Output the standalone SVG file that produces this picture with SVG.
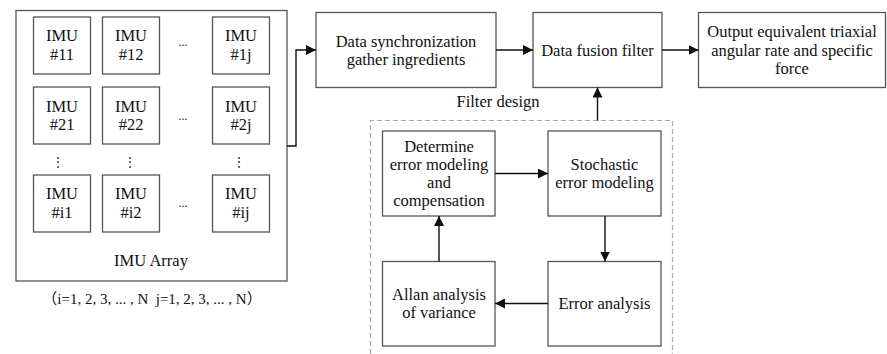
<svg xmlns="http://www.w3.org/2000/svg" width="887" height="354" viewBox="0 0 887 354">
<defs>
<marker id="ah" markerUnits="userSpaceOnUse" markerWidth="10" markerHeight="10" refX="10" refY="5" orient="auto">
<path d="M0,0 L10,5 L0,10 z" fill="#111"/>
</marker>
</defs>
<style>
.box{fill:#fff;stroke:#555;stroke-width:1.3}
.t{font-family:"Liberation Serif","Noto Sans CJK SC",serif;font-size:16.5px;fill:#111;text-anchor:middle}
.n{font-family:"Liberation Serif","Noto Sans CJK SC",serif;font-size:15px;fill:#111;text-anchor:middle}
.s{font-family:"Liberation Serif",serif;font-size:12px;fill:#111;text-anchor:middle}
.c{fill:none;stroke:#111;stroke-width:1.4}
.dash{fill:none;stroke:#aaa;stroke-width:1.2;stroke-dasharray:5,3}
</style>
<rect width="887" height="354" fill="#fff"/>

<g id="imu-array">
<rect class="box" x="16" y="10.5" width="271" height="270.5"/>
<text class="t" x="151" y="266">IMU Array</text>
</g>
<g id="imu11"><rect class="box" x="33.5" y="17" width="57" height="57"/><text class="t" x="62" y="40.5">IMU</text><text class="t" x="62" y="59.5">#11</text></g>
<g id="imu12"><rect class="box" x="102.5" y="17" width="57" height="57"/><text class="t" x="131" y="40.5">IMU</text><text class="t" x="131" y="59.5">#12</text></g>
<g id="imu1j"><rect class="box" x="212.5" y="17" width="57" height="57"/><text class="t" x="241" y="40.5">IMU</text><text class="t" x="241" y="59.5">#1j</text></g>
<g id="imu21"><rect class="box" x="33.5" y="87" width="57" height="57"/><text class="t" x="62" y="111.5">IMU</text><text class="t" x="62" y="129.5">#21</text></g>
<g id="imu22"><rect class="box" x="102.5" y="87" width="57" height="57"/><text class="t" x="131" y="111.5">IMU</text><text class="t" x="131" y="129.5">#22</text></g>
<g id="imu2j"><rect class="box" x="212.5" y="87" width="57" height="57"/><text class="t" x="241" y="111.5">IMU</text><text class="t" x="241" y="129.5">#2j</text></g>
<g id="imui1"><rect class="box" x="33.5" y="175" width="57" height="57"/><text class="t" x="62" y="198.5">IMU</text><text class="t" x="62" y="217.5">#i1</text></g>
<g id="imui2"><rect class="box" x="102.5" y="175" width="57" height="57"/><text class="t" x="131" y="198.5">IMU</text><text class="t" x="131" y="217.5">#i2</text></g>
<g id="imuij"><rect class="box" x="212.5" y="175" width="57" height="57"/><text class="t" x="241" y="198.5">IMU</text><text class="t" x="241" y="217.5">#ij</text></g>

<g id="ellipses">
<text class="s" x="183" y="46">...</text>
<text class="s" x="183" y="120">...</text>
<text class="s" x="183" y="207">...</text>
<text class="s" x="58" y="166">⋮</text>
<text class="s" x="130" y="166">⋮</text>
<text class="s" x="239" y="166">⋮</text>
</g>

<g id="index-note">
<text class="n" x="152" y="304" xml:space="preserve">（i=1, 2, 3, ... , N  j=1, 2, 3, ... , N）</text>
</g>

<g id="data-sync">
<rect class="box" x="316" y="12.5" width="180" height="75"/>
<text class="t" x="406" y="46.5">Data synchronization</text>
<text class="t" x="406" y="64.5">gather ingredients</text>
</g>
<g id="data-fusion">
<rect class="box" x="533" y="12.5" width="129" height="75"/>
<text class="t" x="597.5" y="55.5">Data fusion filter</text>
</g>
<g id="output">
<rect class="box" x="698.5" y="12.5" width="187" height="75"/>
<text class="t" x="792" y="37">Output equivalent triaxial</text>
<text class="t" x="792" y="55.5">angular rate and specific</text>
<text class="t" x="792" y="74">force</text>
</g>

<g id="filter-design">
<text class="t" x="498" y="107">Filter design</text>
<path class="dash" d="M370.5,354 V120.5 H672.5 V354"/>
</g>

<g id="determine">
<rect class="box" x="382.5" y="131" width="112.5" height="85"/>
<text class="t" x="439" y="151.5">Determine</text>
<text class="t" x="439" y="169.5">error modeling</text>
<text class="t" x="439" y="187.5">and</text>
<text class="t" x="439" y="205.5">compensation</text>
</g>
<g id="stochastic">
<rect class="box" x="548" y="131" width="113" height="85"/>
<text class="t" x="604.5" y="169.5">Stochastic</text>
<text class="t" x="604.5" y="187.5">error modeling</text>
</g>
<g id="allan">
<rect class="box" x="382.5" y="261.5" width="112.5" height="84.5"/>
<text class="t" x="439" y="299.5">Allan analysis</text>
<text class="t" x="439" y="317.5">of variance</text>
</g>
<g id="error-analysis">
<rect class="box" x="548" y="261.5" width="113" height="84.5"/>
<text class="t" x="604.5" y="308.5">Error analysis</text>
</g>

<g id="connectors">
<path class="c" d="M287,146 H296 V50 H316" marker-end="url(#ah)"/>
<path class="c" d="M496,50 H533" marker-end="url(#ah)"/>
<path class="c" d="M662,50 H698.5" marker-end="url(#ah)"/>
<path class="c" d="M597.5,120.5 V87.5" marker-end="url(#ah)"/>
<path class="c" d="M495,173.5 H548" marker-end="url(#ah)"/>
<path class="c" d="M605,216 V261.5" marker-end="url(#ah)"/>
<path class="c" d="M548,303.5 H495" marker-end="url(#ah)"/>
<path class="c" d="M439,261.5 V216" marker-end="url(#ah)"/>
</g>
</svg>
